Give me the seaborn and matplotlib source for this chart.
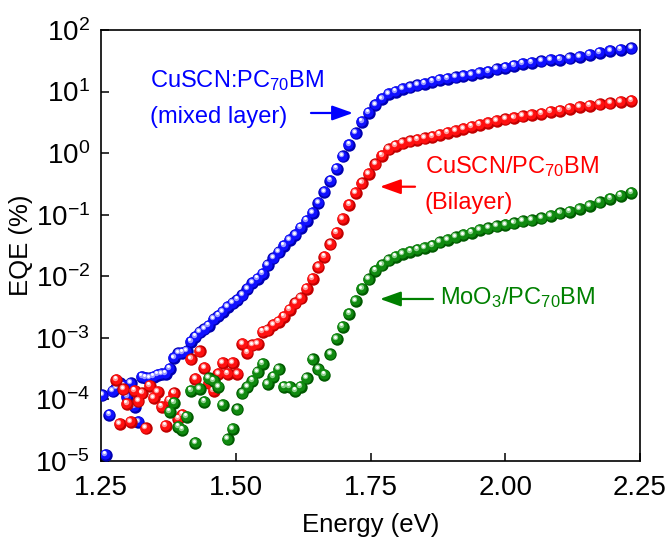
import matplotlib
matplotlib.use("Agg")
import matplotlib.pyplot as plt
import matplotlib.transforms as mtrans
from matplotlib.ticker import LogLocator, NullLocator, FormatStrFormatter
import numpy as np
import pandas as pd
import seaborn as sns

# photon energy (eV), shared by all three devices
energy = [1.2525, 1.2589, 1.2653, 1.2718, 1.2784, 1.2850, 1.2917, 1.2984, 1.3053, 1.3122,
          1.3191, 1.3262, 1.3333, 1.3405, 1.3478, 1.3552, 1.3626, 1.3702, 1.3778, 1.3855,
          1.3933, 1.4011, 1.4091, 1.4171, 1.4253, 1.4335, 1.4419, 1.4503, 1.4588, 1.4675,
          1.4762, 1.4850, 1.4940, 1.5030, 1.5122, 1.5215, 1.5309, 1.5404, 1.5500, 1.5597,
          1.5696, 1.5796, 1.5897, 1.6000, 1.6104, 1.6209, 1.6316, 1.6424, 1.6533, 1.6644,
          1.6757, 1.6871, 1.6986, 1.7103, 1.7222, 1.7343, 1.7465, 1.7589, 1.7714, 1.7842,
          1.7971, 1.8102, 1.8235, 1.8370, 1.8507, 1.8647, 1.8788, 1.8931, 1.9077, 1.9225,
          1.9375, 1.9528, 1.9683, 1.9840, 2.0000, 2.0163, 2.0328, 2.0496, 2.0667, 2.0840,
          2.1017, 2.1197, 2.1379, 2.1565, 2.1754, 2.1947, 2.2143, 2.2342]

nan = np.nan

# EQE (%) - CuSCN:PC70BM mixed layer
eqe_mixed = [1.17e-4, 1.26e-5, 5.62e-5, 1.35e-4, 1.51e-4, 1.82e-4, 1.66e-4, 1.10e-4, 1.82e-4, 7.59e-5,
             4.27e-5, 2.34e-4, 2.24e-4, 2.19e-4, 2.34e-4, 2.51e-4, 2.57e-4, 2.63e-4, 3.16e-4, 4.68e-4,
             5.62e-4, 5.75e-4, 6.03e-4, 8.71e-4, 1.05e-3, 1.23e-3, 1.38e-3, 1.58e-3, 2.00e-3, 2.29e-3,
             2.63e-3, 3.16e-3, 3.63e-3, 4.17e-3, 4.90e-3, 6.17e-3, 7.76e-3, 9.12e-3, 1.10e-2, 1.51e-2,
             1.95e-2, 2.45e-2, 3.16e-2, 3.89e-2, 4.68e-2, 6.17e-2, 7.94e-2, 0.107, 0.155, 0.234,
             0.355, 0.562, 0.891, 1.38, 2.09, 3.24, 4.57, 6.03, 7.59, 9.12,
             10.0, 11.0, 11.7, 12.6, 13.5, 14.5, 15.5, 16.2, 17.0, 17.8,
             18.6, 20.0, 20.9, 22.9, 24.5, 26.3, 28.2, 29.5, 30.9, 32.4,
             33.1, 34.7, 36.3, 39.8, 42.7, 45.7, 47.9, 50.1]

# EQE (%) - CuSCN/PC70BM bilayer
eqe_bilayer = [nan, nan, nan, nan, 2.09e-4, 3.98e-5, 1.45e-4, 8.51e-5, 4.27e-5, 1.38e-4,
               9.33e-5, 1.26e-4, 3.39e-5, 1.66e-4, 1.05e-4, 1.32e-4, 7.59e-5, 3.72e-5, 9.55e-5, 1.26e-4,
               4.90e-5, 5.62e-5, nan, 4.47e-4, 2.14e-4, 6.03e-4, 3.24e-4, 1.82e-4, 1.38e-4, 2.57e-4,
               3.89e-4, 2.63e-4, 3.89e-4, 2.57e-4, 7.94e-4, 5.75e-4, 7.59e-4, 7.94e-4, 1.26e-3, 1.32e-3,
               1.62e-3, 1.82e-3, 2.19e-3, 2.88e-3, 3.63e-3, 4.37e-3, 6.31e-3, 9.12e-3, 1.41e-2, 2.09e-2,
               3.31e-2, 5.13e-2, 8.51e-2, 0.145, 0.224, 0.324, 0.457, 0.661, 0.912, 1.15,
               1.32, 1.45, 1.55, 1.66, 1.74, 1.86, 2.00, 2.14, 2.29, 2.45,
               2.69, 2.88, 3.09, 3.31, 3.55, 3.72, 3.98, 4.17, 4.37, 4.68,
               4.90, 5.25, 5.62, 5.89, 6.17, 6.46, 6.76, 7.08]

# EQE (%) - MoO3/PC70BM
eqe_moo3 = [nan, nan, nan, nan, nan, nan, nan, nan, nan, nan,
            nan, nan, nan, nan, nan, nan, nan, nan, 6.31e-5, 8.91e-5,
            3.63e-5, 3.24e-5, 5.25e-5, 1.38e-4, 1.95e-5, 1.48e-4, 9.12e-5, 2.19e-4, 2.00e-4, 1.58e-4,
            8.13e-5, 2.24e-5, 3.31e-5, 6.92e-5, 1.26e-4, 1.58e-4, 2.00e-4, 2.75e-4, 3.80e-4, 1.78e-4,
            2.34e-4, 3.09e-4, 1.62e-4, 1.62e-4, 1.38e-4, 1.62e-4, 2.19e-4, 4.47e-4, 3.09e-4, 2.51e-4,
            5.37e-4, 9.55e-4, 1.51e-3, 2.45e-3, 3.98e-3, 6.17e-3, 8.91e-3, 1.23e-2, 1.51e-2, 1.82e-2,
            2.09e-2, 2.29e-2, 2.51e-2, 2.69e-2, 2.88e-2, 3.16e-2, 3.55e-2, 3.89e-2, 4.27e-2, 4.68e-2,
            5.13e-2, 5.62e-2, 6.03e-2, 6.46e-2, 6.76e-2, 7.24e-2, 7.76e-2, 8.13e-2, 8.71e-2, 9.55e-2,
            0.105, 0.112, 0.123, 0.138, 0.158, 0.182, 0.204, 0.229]

x_ticks = [1.25, 1.50, 1.75, 2.00, 2.25]

df = pd.DataFrame({"energy": energy, "mixed": eqe_mixed,
                   "bilayer": eqe_bilayer, "moo3": eqe_moo3})

sns.set_style("ticks")
plt.rcParams["font.family"] = ["Liberation Sans", "DejaVu Sans"]
plt.rcParams["mathtext.fontset"] = "custom"
plt.rcParams["mathtext.rm"] = "Liberation Sans"
plt.rcParams["mathtext.it"] = "Liberation Sans:italic"
plt.rcParams["mathtext.bf"] = "Liberation Sans:bold"
plt.rcParams["mathtext.default"] = "regular"
plt.rcParams["axes.unicode_minus"] = False
plt.rcParams["text.color"] = "black"
plt.rcParams["axes.labelcolor"] = "black"

fig = plt.figure(figsize=(6.7, 5.42), dpi=100)
ax = fig.add_axes([101 / 670, 1 - 461 / 542, 539 / 670, 431 / 542])
ax.set_yscale("log")


def balls(col, base, dark, light, z):
    # fake 3D spheres: dark rim, coloured body, light spot, white highlight
    d = df[["energy", col]].dropna()
    sns.scatterplot(data=d, x="energy", y=col, ax=ax, s=80, color=dark,
                    linewidth=0, legend=False, zorder=z)
    t1 = mtrans.offset_copy(ax.transData, fig=fig, x=-0.7, y=0.7, units="dots")
    ax.scatter(d["energy"], d[col], s=54, color=base, linewidth=0, transform=t1, zorder=z + 0.1)
    t2 = mtrans.offset_copy(ax.transData, fig=fig, x=-1.5, y=2.0, units="dots")
    ax.scatter(d["energy"], d[col], s=15, color=light, linewidth=0, transform=t2, zorder=z + 0.2)
    t3 = mtrans.offset_copy(ax.transData, fig=fig, x=-1.6, y=2.4, units="dots")
    ax.scatter(d["energy"], d[col], s=4.5, color="white", linewidth=0, transform=t3, zorder=z + 0.3)


balls("mixed", "#1010ff", "#0000b0", "#9a9aff", 3)
balls("bilayer", "#ff1010", "#c00000", "#ff9a9a", 4)
balls("moo3", "#108a10", "#005a00", "#8fd08f", 5)

ax.set_xlim(1.25, 2.25)
ax.set_ylim(1e-5, 1e2)
ax.set_xticks(x_ticks)
ax.xaxis.set_major_formatter(FormatStrFormatter("%.2f"))
ax.yaxis.set_major_locator(LogLocator(base=10, numticks=10))
ax.yaxis.set_minor_locator(NullLocator())
ax.xaxis.set_minor_locator(NullLocator())
ax.tick_params(direction="in", length=6, width=1.1, labelsize=20,
               top=False, right=False, colors="black")
ax.tick_params(axis="x", pad=10)
ax.tick_params(axis="y", pad=8)
for sp in ax.spines.values():
    sp.set_linewidth(1.2)
    sp.set_color("black")

ax.set_xlabel("Energy (eV)", fontsize=18.5, color="black", labelpad=9)
ax.set_ylabel("EQE (%)", fontsize=18.5, color="black")
ax.yaxis.set_label_coords(-0.127, 0.5)

# annotations
ax.text(1.341, 11.9, "CuSCN:PC$_{70}$BM", color="#0000ff", fontsize=17, va="baseline")
ax.text(1.341, 3.1, "(mixed layer)", color="#0000ff", fontsize=17, va="baseline")
ax.text(1.851, 0.475, "CuSCN/PC$_{70}$BM", color="#ff0000", fontsize=17, va="baseline")
ax.text(1.851, 0.124, "(Bilayer)", color="#ff0000", fontsize=17, va="baseline")
ax.text(1.879, 3.55e-3, "MoO$_3$/PC$_{70}$BM", color="#008000", fontsize=17, va="baseline")

arrow = "-|>,head_length=0.7,head_width=0.25"
ax.annotate("", xy=(1.7175, 4.49), xytext=(1.6396, 4.49),
            arrowprops=dict(arrowstyle=arrow, color="#0000ff", lw=1.6,
                            mutation_scale=18, shrinkA=0, shrinkB=0))
ax.annotate("", xy=(1.7676, 0.285), xytext=(1.8326, 0.285),
            arrowprops=dict(arrowstyle=arrow, color="#ff0000", lw=1.6,
                            mutation_scale=18, shrinkA=0, shrinkB=0))
ax.annotate("", xy=(1.7676, 4.28e-3), xytext=(1.866, 4.28e-3),
            arrowprops=dict(arrowstyle=arrow, color="#008000", lw=1.6,
                            mutation_scale=18, shrinkA=0, shrinkB=0))

fig.savefig("out.png", dpi=100)
